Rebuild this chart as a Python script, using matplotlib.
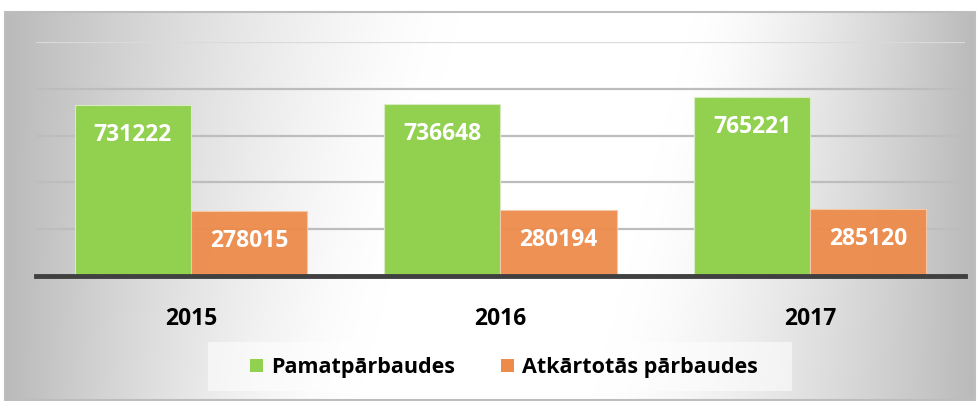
import numpy as np
import matplotlib
matplotlib.use("Agg")
import matplotlib.pyplot as plt
from matplotlib.patches import Rectangle

years = ["2015", "2016", "2017"]
pamat = [731222, 736648, 765221]
atkart = [278015, 280194, 285120]
series_names = ["Pamatpārbaudes", "Atkārtotās pārbaudes"]
yticks = [0, 200000, 400000, 600000, 800000, 1000000]

GREEN = "#92D050"
ORANGE = "#ED8B4B"
FONT = "Open Sans"

W, H = 979, 401
fig = plt.figure(figsize=(W / 100, H / 100), dpi=100)
fig.patch.set_facecolor("white")

# gradient background panel
x0, x1, y0, y1 = 5, 975, 12, 400
bg = fig.add_axes([x0 / W, 1 - y1 / H, (x1 - x0) / W, (y1 - y0) / H], zorder=0)
nx, ny = 400, 160
xx, yy = np.meshgrid(np.linspace(0, 1, nx), np.linspace(0, 1, ny))
c = 0.62 - 0.14 * yy
d = np.where(xx < c, (c - xx) / c, (xx - c) / (1 - c))
d = np.clip(d - 0.25, 0, None) / 0.75
v = 1 - 0.27 * d ** 1.4
img = np.dstack([v, v, v])
bg.imshow(img, aspect="auto", extent=[0, 1, 0, 1], origin="upper", interpolation="bicubic")
bg.set_axis_off()
fig.patches.append(Rectangle((x0 / W, 1 - y1 / H), (x1 - x0) / W, (y1 - y0) / H,
                             transform=fig.transFigure, fill=False,
                             edgecolor="#bdbdbd", lw=1.5, zorder=1))

ax = fig.add_axes([36 / W, 125 / H, (965 - 36) / W, (276 - 42) / H], zorder=2)
ax.set_facecolor("none")
x = np.arange(len(years))
bw = 0.375
ax.set_xlim(-0.5, len(years) - 0.5)
ax.set_ylim(0, yticks[-1])
ax.set_yticks(yticks)
for t in yticks[1:]:
    ax.axhline(t, color="#bdbdbd" if t < yticks[-1] else "#dadada", lw=1.6, zorder=1)
ax.axhline(0, color="#404040", lw=3.5, zorder=4, clip_on=False)

b1 = ax.bar(x - bw / 2, pamat, bw, color=GREEN, edgecolor="#d8ecc0", lw=0.8, zorder=2)
b2 = ax.bar(x + bw / 2, atkart, bw, color=ORANGE, edgecolor="#f5c9a8", lw=0.8,
            alpha=0.95, zorder=3)

for bars, vals in ((b1, pamat), (b2, atkart)):
    for r, v in zip(bars, vals):
        ax.annotate(str(v), (r.get_x() + r.get_width() / 2, v), xytext=(0, -30),
                    textcoords="offset pixels", ha="center", va="center",
                    color="white", fontsize=16.5, fontweight="bold", family=FONT, zorder=5)

ax.set_xticks(x)
ax.set_xticklabels(years, fontsize=16.5, fontweight="bold", family=FONT, color="black")
ax.tick_params(axis="x", length=0, pad=22)
ax.tick_params(axis="y", left=False, labelleft=False)
for s in ax.spines.values():
    s.set_visible(False)

# legend box
fig.patches.append(Rectangle((208 / W, 1 - 391 / H), (792 - 208) / W, (391 - 342) / H,
                             transform=fig.transFigure, facecolor="white", alpha=0.55,
                             edgecolor="none", zorder=3))
leg_items = [(250, series_names[0], GREEN), (501, series_names[1], ORANGE)]
for px, name, col in leg_items:
    fig.patches.append(Rectangle((px / W, 1 - 372 / H), 13 / W, 13 / H,
                                 transform=fig.transFigure, facecolor=col,
                                 edgecolor="none", zorder=4))
    fig.text((px + 21) / W, 1 - 367 / H, name, ha="left", va="center",
             fontsize=15.5, fontweight="bold", family=FONT, color="black", zorder=5)

fig.savefig("out.png", dpi=100)
